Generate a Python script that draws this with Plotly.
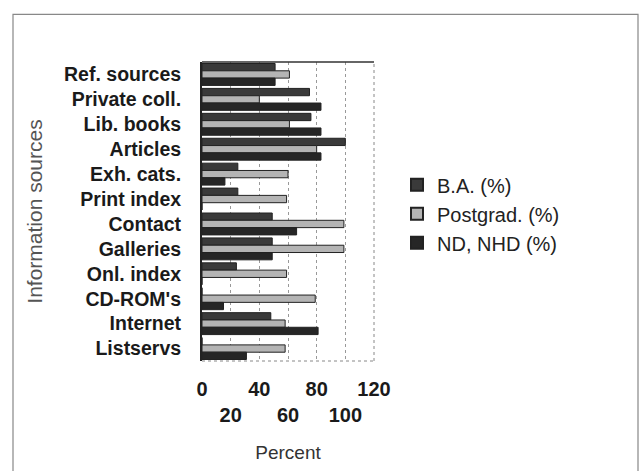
import plotly.graph_objects as go

categories = ["Ref. sources", "Private coll.", "Lib. books", "Articles", "Exh. cats.",
              "Print index", "Contact", "Galleries", "Onl. index", "CD-ROM's",
              "Internet", "Listservs"]
ba = [51, 75, 76, 100, 25, 25, 49, 49, 24, 0, 48, 0]
postgrad = [61, 40, 61, 80, 60, 59, 99, 99, 59, 79, 58, 58]
nd_nhd = [51, 83, 83, 83, 16, 0, 66, 49, 0, 15, 81, 31]
series_names = ["B.A. (%)", "Postgrad. (%)", "ND, NHD (%)"]
tick_vals = [0, 20, 40, 60, 80, 100, 120]
tick_text = ["0", "<br>20", "40", "<br>60", "80", "<br>100", "120"]

colors = ["#3a3a3a", "#b4b4b4", "#262626"]

fig = go.Figure()
for name, vals, col in zip(series_names, [ba, postgrad, nd_nhd], colors):
    fig.add_trace(go.Bar(
        y=categories, x=vals, name=name, orientation="h",
        marker=dict(color=col, line=dict(color="#222222", width=1)),
    ))

L, R, T, B = 202, 266, 62, 108
W, H = 640, 471
pw, ph = W - L - R, H - T - B

def px(x):
    return (x - L) / pw

def py(y):
    return (H - B - y) / ph

fig.update_layout(
    width=W, height=H,
    margin=dict(l=L, r=R, t=T, b=B),
    paper_bgcolor="white", plot_bgcolor="white",
    barmode="group", bargap=0.12, bargroupgap=0,
    font=dict(family="Liberation Sans, Arial", color="#1a1a1a"),
    showlegend=True,
    legend=dict(x=px(397), y=py(166), xanchor="left", yanchor="top",
                font=dict(size=20, color="#222"), traceorder="normal",
                tracegroupgap=2, itemsizing="constant"),
    xaxis=dict(range=[0, 120], tickvals=tick_vals, ticktext=tick_text, tickangle=0,
               showgrid=True, gridcolor="#999", griddash="dot", gridwidth=1,
               showline=False, zeroline=False, ticks="",
               tickfont=dict(size=20, family="Liberation Sans, Arial", weight="bold", color="#1a1a1a"),
               ticklabelstandoff=14,
               title=dict(text="Percent", font=dict(size=19, color="#333"), standoff=20)),
    yaxis=dict(autorange="reversed", showgrid=False, showline=True, linecolor="#222",
               linewidth=2, ticks="", ticklabelstandoff=15,
               tickfont=dict(size=19.5, family="Liberation Sans, Arial", weight="bold", color="#1a1a1a"),
               title=dict(text="Information sources", font=dict(size=21, color="#555"), standoff=16)),
    shapes=[
        dict(type="line", xref="paper", yref="paper", x0=0, x1=1, y0=1, y1=1,
             line=dict(color="#333", width=1.5)),
        dict(type="line", xref="paper", yref="paper", x0=1, x1=1, y0=0, y1=1,
             line=dict(color="#888", width=1, dash="dot")),
        dict(type="line", xref="paper", yref="paper", x0=0, x1=1, y0=0, y1=0,
             line=dict(color="#888", width=1, dash="dot")),
        dict(type="rect", xref="paper", yref="paper", x0=px(13), x1=px(638),
             y0=py(478), y1=py(14), line=dict(color="#888", width=1.2)),
    ],
)

fig.write_html("out.html")
